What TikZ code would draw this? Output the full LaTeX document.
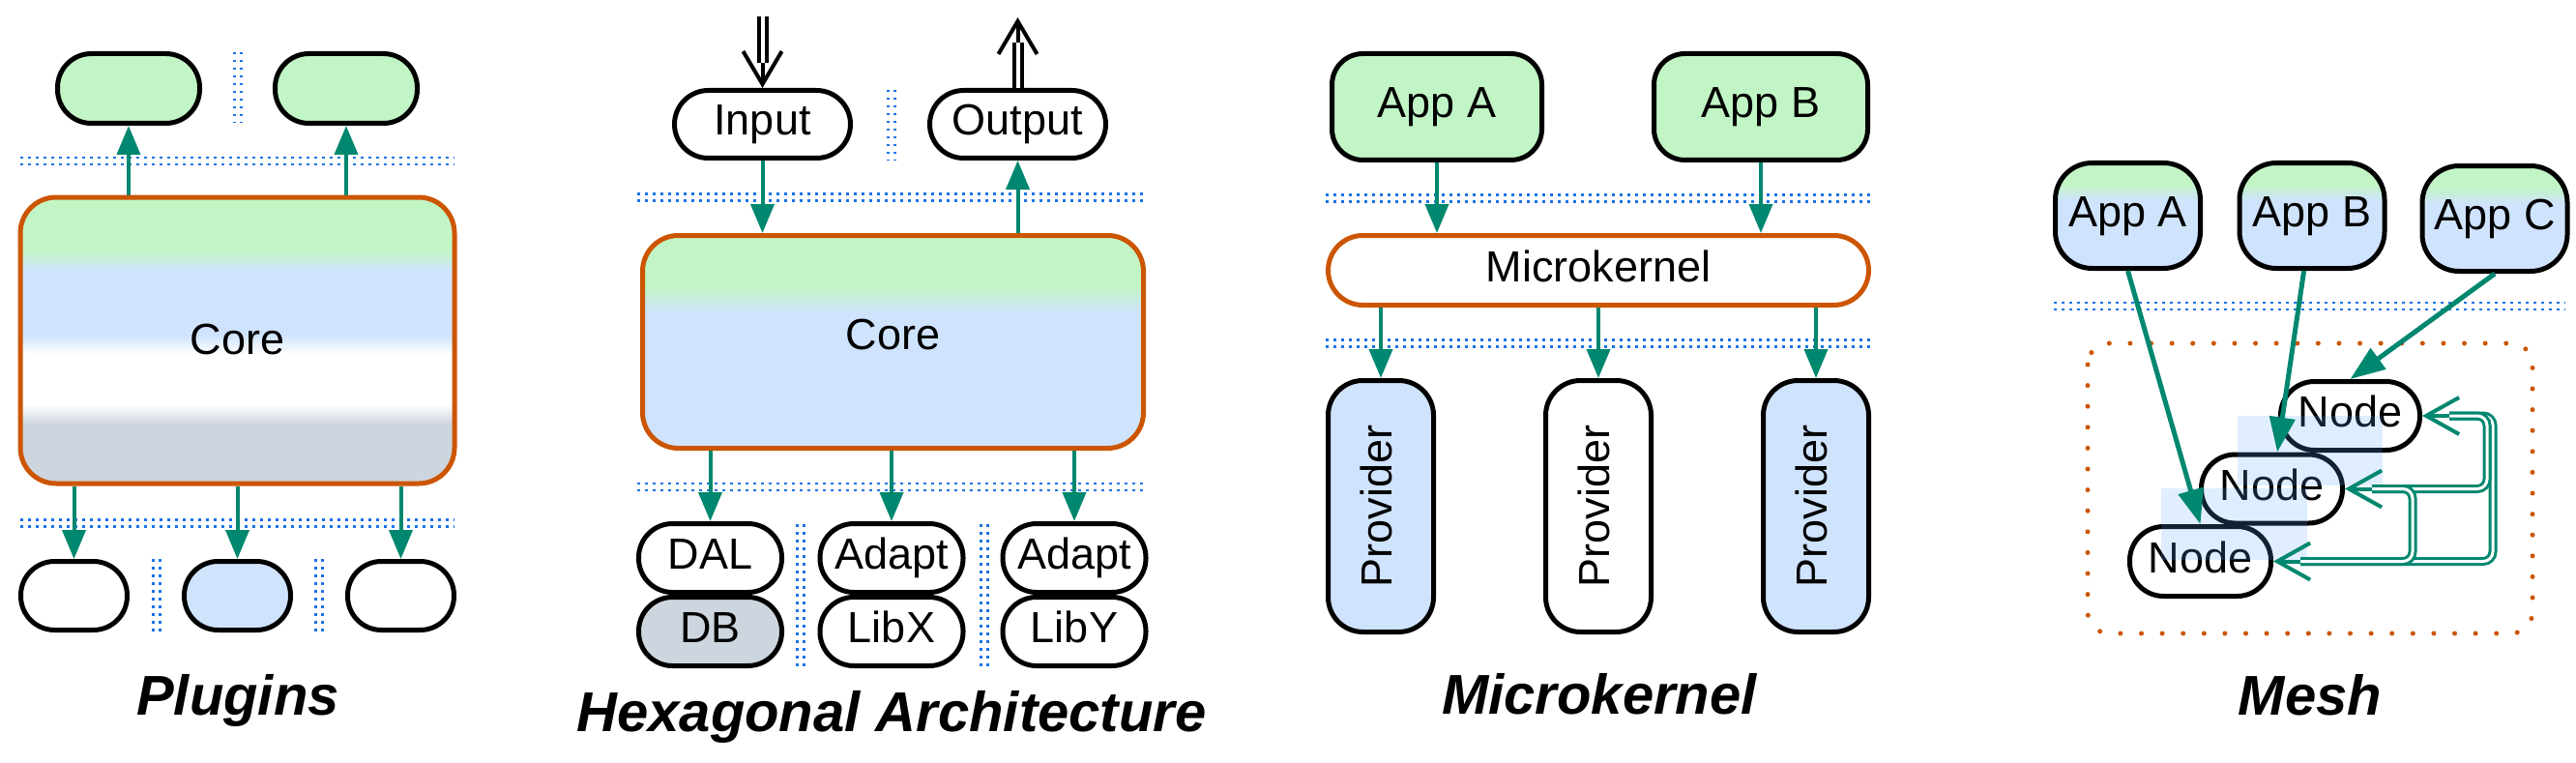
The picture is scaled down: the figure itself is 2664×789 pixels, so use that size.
\documentclass[tikz,border=0pt]{standalone}
\usepackage{fontspec}
\setmainfont{Liberation Sans}
\usetikzlibrary{arrows.meta,calc}
\definecolor{cgreen}{RGB}{194,245,198}
\definecolor{cblue}{RGB}{207,227,253}
\definecolor{cgray}{RGB}{205,213,222}
\definecolor{corange}{RGB}{204,85,0}
\definecolor{cteal}{RGB}{0,135,111}
\definecolor{csep}{RGB}{26,115,232}
\definecolor{cshade}{RGB}{99,170,255}
\pgfdeclareverticalshading{coreA}{100bp}{color(0bp)=(cgray); color(35.4bp)=(cgray); color(38.8bp)=(white); color(47.6bp)=(white); color(51bp)=(cblue); color(62.2bp)=(cblue); color(65.6bp)=(cgreen); color(100bp)=(cgreen)}
\pgfdeclareverticalshading{coreB}{100bp}{color(0bp)=(cblue); color(57bp)=(cblue); color(62.8bp)=(cgreen); color(100bp)=(cgreen)}
\pgfdeclareverticalshading{appmix}{100bp}{color(0bp)=(cblue); color(57bp)=(cblue); color(65bp)=(cgreen); color(100bp)=(cgreen)}
\newcommand\hsepl[3]{\draw[sepdots] (#1,#3-3.5) -- (#2,#3-3.5); \draw[sepdots] (#1,#3+3.5) -- (#2,#3+3.5);}
\newcommand\vsepl[3]{\draw[sepdots] (#1-3.5,#2) -- (#1-3.5,#3); \draw[sepdots] (#1+3.5,#2) -- (#1+3.5,#3);}
\begin{document}
\begin{tikzpicture}[x=1pt,y=-1pt,
  txt/.style={font=\fontsize{45}{54}\selectfont, text height=32pt, text depth=9pt, inner sep=0pt},
  pill/.style={txt, rectangle, draw=black, line width=5pt, rounded corners=35pt},
  sbox/.style={txt, rectangle, draw=black, line width=5pt, rounded corners=32pt},
  obox/.style={txt, rectangle, draw=corange, line width=5pt, rounded corners=37pt},
  sepdots/.style={draw=csep, line width=2.5pt, dash pattern=on 2.5pt off 5.5pt},
  arr/.style={draw=cteal, line width=4pt, -{Triangle[length=30pt,width=24pt]}},
  marr/.style={draw=cteal, line width=5pt, -{Triangle[length=36pt,width=26pt]}},
  dbl/.style={draw=cteal, line width=3pt, double=white, double distance=3pt, rounded corners=10pt},
  mbarb/.style={draw=cteal, line width=4pt, -{Straight Barb[length=34pt,width=38pt]}},
  dblk/.style={draw=black, line width=4pt, double=white, double distance=4pt},
  kbarb/.style={draw=black, line width=4pt, -{Straight Barb[length=34pt,width=40pt]}},
  ttl/.style={font=\fontsize{58}{70}\selectfont\bfseries\itshape, anchor=base, inner sep=0pt}
]
\useasboundingbox (0,0) rectangle (2664,789);

% ---------------- Plugins ----------------
\node[pill, fill=cgreen, minimum width=147pt, minimum height=72pt] (p1t1) at (133,91.5) {};
\node[pill, fill=cgreen, minimum width=147pt, minimum height=72pt] (p1t2) at (358,91.5) {};
\node[obox, shade, shading=coreA, minimum width=449pt, minimum height=296pt, text depth=4pt] (core1) at (245.5,352) {Core};
\node[pill, fill=white, minimum width=110pt, minimum height=71pt] (p1b1) at (76.5,616) {};
\node[pill, fill=cblue, minimum width=110pt, minimum height=71pt] (p1b2) at (245.5,616) {};
\node[pill, fill=white, minimum width=110pt, minimum height=71pt] (p1b3) at (414.5,616) {};
\vsepl{246}{54}{127}
\hsepl{21}{470}{166.5}
\hsepl{21}{470}{541}
\vsepl{162}{578}{653}
\vsepl{330}{578}{653}
\draw[arr] (core1.north -| p1t1) -- (p1t1.south);
\draw[arr] (core1.north -| p1t2) -- (p1t2.south);
\draw[arr] (core1.south -| p1b1) -- (p1b1.north);
\draw[arr] (core1.south -| p1b2) -- (p1b2.north);
\draw[arr] (core1.south -| p1b3) -- (p1b3.north);
\node[ttl] (t1) at (246,739) {Plugins};

% ---------------- Hexagonal ----------------
\node[pill, fill=white, minimum width=182pt, minimum height=70pt] (inp) at (788.5,128.5) {Input};
\node[pill, fill=white, minimum width=182pt, minimum height=70pt] (outp) at (1052.5,128.5) {Output};
\coordinate (inTop) at (788.5,17);
\coordinate (outTop) at (1052.5,18);
\draw[dblk, shorten >=26pt] (inTop) -- (inp.north);
\draw[kbarb] ($(inp.north)+(0,-26)$) -- (inp.north);
\draw[dblk, shorten >=26pt] (outp.north) -- (outTop);
\draw[kbarb] ($(outTop)+(0,26)$) -- (outTop);
\vsepl{922}{93}{166}
\hsepl{659}{1185}{204}
\node[obox, shade, shading=coreB, minimum width=518pt, minimum height=220pt, text depth=16pt] (core2) at (923.5,353.5) {Core};
\hsepl{659}{1185}{503.5}
\node[pill, fill=white, minimum width=148pt, minimum height=71pt] (dal) at (734.5,577) {DAL};
\node[pill, fill=cgray, minimum width=148pt, minimum height=71pt] (db) at (734.5,653) {DB};
\node[pill, fill=white, minimum width=148pt, minimum height=71pt] (ad1) at (922,577) {Adapt};
\node[pill, fill=white, minimum width=148pt, minimum height=71pt] (libx) at (922,653) {LibX};
\node[pill, fill=white, minimum width=148pt, minimum height=71pt] (ad2) at (1111,577) {Adapt};
\node[pill, fill=white, minimum width=148pt, minimum height=71pt] (liby) at (1111,653) {LibY};
\vsepl{828}{542}{691}
\vsepl{1018}{542}{691}
\draw[arr] (inp.south) -- (inp.south |- core2.north);
\draw[arr] (core2.north -| outp) -- (outp.south);
\draw[arr] (core2.south -| dal) -- (dal.north);
\draw[arr] (core2.south -| ad1) -- (ad1.north);
\draw[arr] (core2.south -| ad2) -- (ad2.north);
\node[ttl] (t2) at (922,756) {Hexagonal Architecture};

% ---------------- Microkernel ----------------
\node[sbox, fill=cgreen, minimum width=217pt, minimum height=110pt] (appA) at (1486,110.5) {App A};
\node[sbox, fill=cgreen, minimum width=221pt, minimum height=110pt] (appB) at (1821,110.5) {App B};
\hsepl{1371}{1934}{205}
\node[obox, fill=white, minimum width=559pt, minimum height=72pt, rounded corners=36pt] (mk) at (1653,279.5) {Microkernel};
\hsepl{1371}{1934}{355}
\node[sbox, fill=cblue, minimum width=109pt, minimum height=260pt, rounded corners=36pt] (pv1) at (1428,523.5) {};
\node[sbox, fill=white, minimum width=109pt, minimum height=260pt, rounded corners=36pt] (pv2) at (1653,523.5) {};
\node[sbox, fill=cblue, minimum width=109pt, minimum height=260pt, rounded corners=36pt] (pv3) at (1878,523.5) {};
\node[txt, rotate=90] (pl1) at (pv1) {Provider};
\node[txt, rotate=90] (pl2) at (pv2) {Provider};
\node[txt, rotate=90] (pl3) at (pv3) {Provider};
\draw[arr] (appA.south) -- (appA.south |- mk.north);
\draw[arr] (appB.south) -- (appB.south |- mk.north);
\draw[arr] (mk.south -| pv1) -- (pv1.north);
\draw[arr] (mk.south -| pv2) -- (pv2.north);
\draw[arr] (mk.south -| pv3) -- (pv3.north);
\node[ttl] (t3) at (1654,738) {Microkernel};

% ---------------- Mesh ----------------
\node[sbox, shade, shading=appmix, minimum width=150pt, minimum height=109pt, rounded corners=38pt] (mA) at (2200.5,223) {App A};
\node[sbox, shade, shading=appmix, minimum width=150pt, minimum height=109pt, rounded corners=38pt] (mB) at (2391,223) {App B};
\node[sbox, shade, shading=appmix, minimum width=150pt, minimum height=109pt, rounded corners=38pt] (mC) at (2580,226) {App C};
\hsepl{2124}{2653}{316.5}
\draw[corange, line width=5pt, line cap=round, dash pattern=on 0pt off 21.6pt, rounded corners=22pt] (2159,355) rectangle (2619,655);
\node[pill, fill=white, minimum width=144pt, minimum height=71pt] (n1) at (2430.5,430) {Node};
\node[pill, fill=white, minimum width=146pt, minimum height=71pt] (n2) at (2349.5,505.5) {Node};
\node[pill, fill=white, minimum width=146pt, minimum height=72pt] (n3) at (2275.5,580.5) {Node};
\fill[cshade, opacity=0.2] (2314,430) rectangle (2464,502);
\fill[cshade, opacity=0.2] (2235,505) rectangle (2386,579);
\draw[marr] (mA.south) -- (n3.north);
\draw[marr] (mB) -- (n2);
\draw[marr] (mC.south) -- (n1.north);
\coordinate (r1) at (2578,0);
\coordinate (r2) at (2572,0);
\coordinate (r3) at (2495,0);
\draw[dbl, shorten <=28pt, shorten >=28pt] (n3.east) -| (r1 |- n1.east) -- (n1.east);
\draw[dbl, shorten <=28pt, shorten >=28pt] (n1.east) -| (r2 |- n2.east) -- (n2.east);
\draw[dbl, shorten <=28pt, shorten >=28pt] (n2.east) -| (r3 |- n3.east) -- (n3.east);
\draw[mbarb] ($(n1.east)+(28,0)$) -- (n1.east);
\draw[mbarb] ($(n2.east)+(28,0)$) -- (n2.east);
\draw[mbarb] ($(n3.east)+(28,0)$) -- (n3.east);
\node[ttl] (t4) at (2389,739) {Mesh};
\end{tikzpicture}
\end{document}
